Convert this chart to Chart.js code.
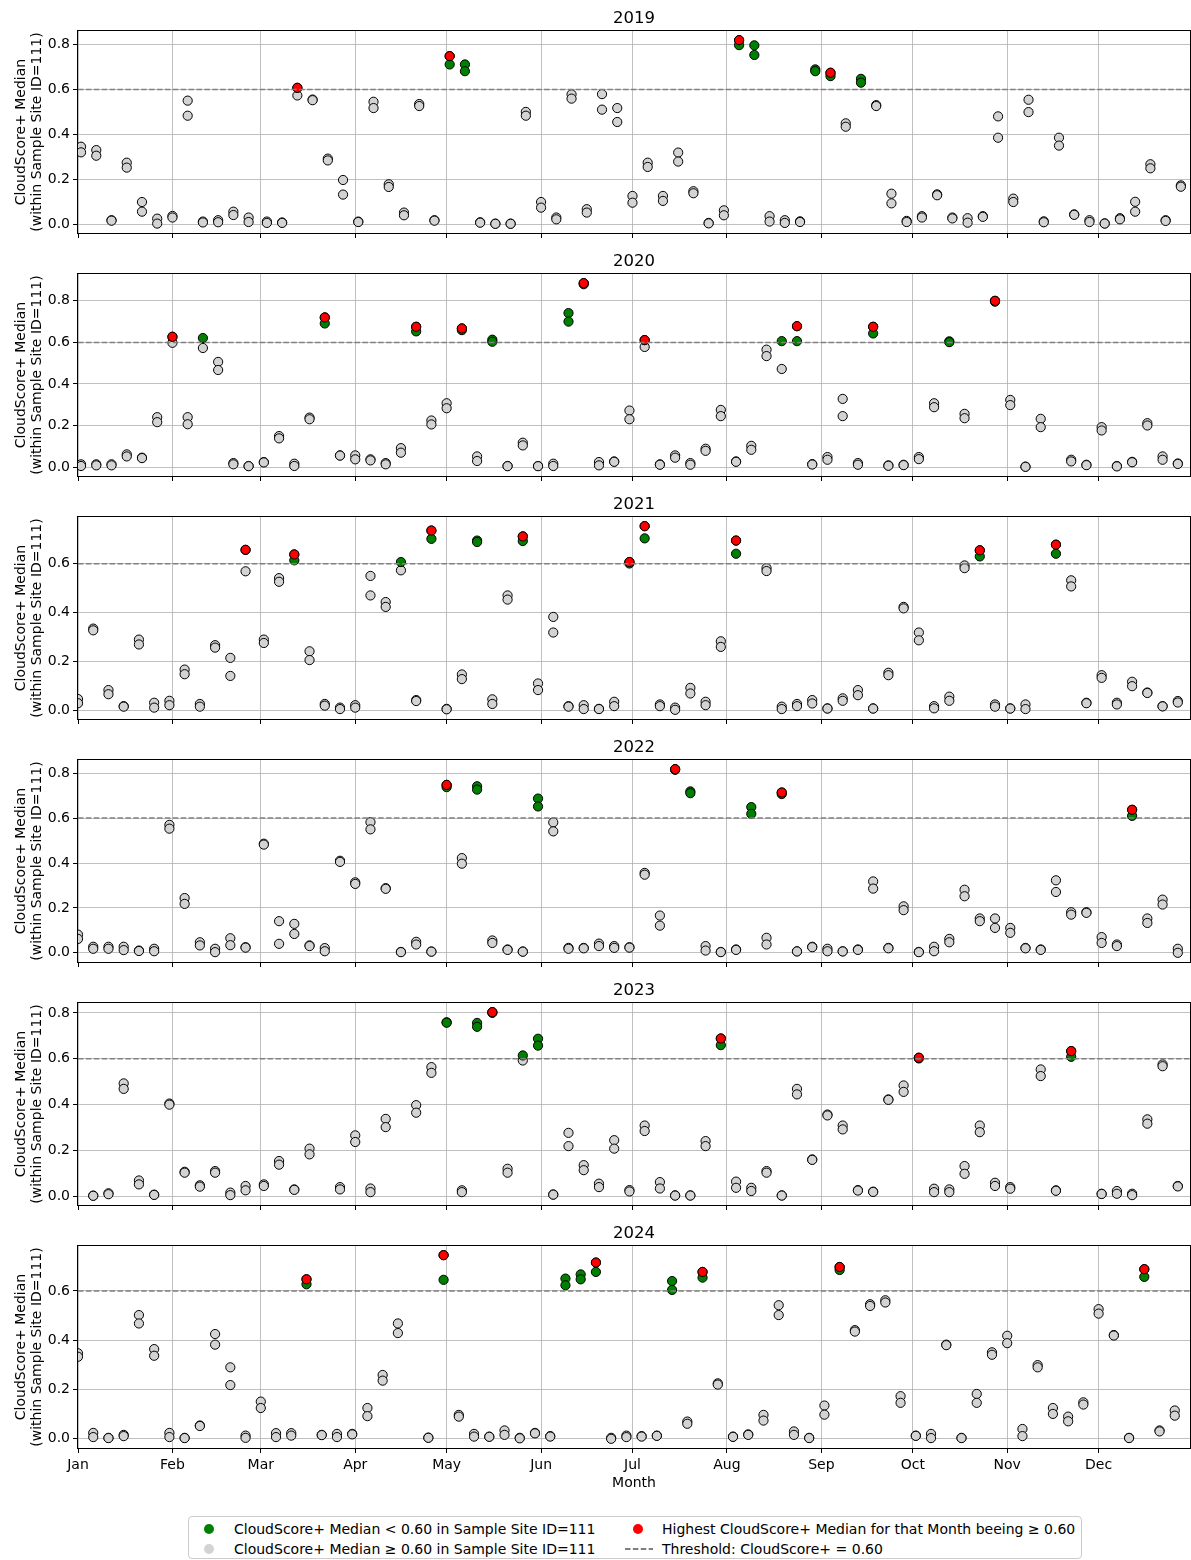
<!DOCTYPE html>
<html>
<head>
<meta charset="utf-8">
<script src="https://cdn.jsdelivr.net/npm/chart.js@4.4.1/dist/chart.umd.min.js"></script>
<style>
  html, body { margin: 0; padding: 0; background: #fff; }
  body { width: 1191px; height: 1560px; overflow: hidden; position: relative; font-family: 'DejaVu Sans', sans-serif; }
  canvas.panel { position: absolute; left: 0; }
  #legend { position: absolute; left: 188px; top: 1516px; width: 892px; height: 41px;
            border: 1px solid #cccccc; border-radius: 4px; background: #fff; font-size: 14px; color: #000; }
  #legend .item { position: absolute; white-space: nowrap; line-height: 16px; }
  #legend .dot { position: absolute; width: 10px; height: 10px; border-radius: 50%; }
  #legend svg { position: absolute; }
</style>
</head>
<body>
<canvas class="panel" id="p2019"></canvas>
<canvas class="panel" id="p2020"></canvas>
<canvas class="panel" id="p2021"></canvas>
<canvas class="panel" id="p2022"></canvas>
<canvas class="panel" id="p2023"></canvas>
<canvas class="panel" id="p2024"></canvas>

<div id="legend">
  <span class="dot" style="left:15px;top:7px;background:#008000"></span>
  <span class="item" style="left:45px;top:4px">CloudScore+ Median &lt; 0.60 in Sample Site ID=111</span>
  <span class="dot" style="left:15px;top:27px;background:#d3d3d3"></span>
  <span class="item" style="left:45px;top:24px">CloudScore+ Median ≥ 0.60 in Sample Site ID=111</span>
  <span class="dot" style="left:444px;top:7px;background:#ff0000"></span>
  <span class="item" style="left:473px;top:4px">Highest CloudScore+ Median for that Month beeing ≥ 0.60</span>
  <svg style="left:435px;top:30px" width="30" height="4"><line x1="1" y1="2" x2="29" y2="2" stroke="#555" stroke-width="1.5" stroke-dasharray="5.5 2.4"/></svg>
  <span class="item" style="left:473px;top:24px">Threshold: CloudScore+ = 0.60</span>
</div>

<script>
// Month axis: calendar positions in days from 1 January (29 February included)
const MONTHS = ['Jan','Feb','Mar','Apr','May','Jun','Jul','Aug','Sep','Oct','Nov','Dec'];
const MONTH_START = [0, 31, 60, 91, 121, 152, 182, 213, 244, 274, 305, 335];
const X_MAX = 365;
const THRESHOLD = 0.6;
const STEP_DAYS = 5;              // acquisition cycle
const Y_TICKS = [0.0, 0.2, 0.4, 0.6, 0.8];

const YEARS = [2019, 2020, 2021, 2022, 2023, 2024];
// day offset of the first acquisition slot in each year
const FIRST_DAY = [1, 1, 0, 0, 0, 0];

// Two CloudScore+ medians per acquisition slot (upper / lower); null = no acquisition
const upper2019 = [0.345,0.330,0.018,0.274,0.099,0.025,0.037,0.550,0.012,0.018,0.056,0.030,0.012,0.008,0.607,0.555,0.292,0.197,0.012,0.545,0.178,0.052,0.535,0.018,0.748,0.711,0.009,0.003,0.003,0.500,0.099,0.030,0.578,0.067,0.579,0.517,0.126,0.274,0.126,0.319,0.147,0.006,0.062,0.819,0.796,0.036,0.018,0.013,0.689,0.674,0.449,0.647,0.530,0.136,0.015,0.036,0.133,0.030,0.027,0.036,0.480,0.114,0.554,0.013,0.385,0.044,0.018,0.004,0.027,0.100,0.267,0.018,0.173];
const lower2019 = [0.320,0.305,0.016,0.252,0.056,0.003,0.030,0.483,0.008,0.009,0.041,0.010,0.006,0.006,0.573,0.552,0.284,0.132,0.010,0.517,0.166,0.040,0.526,0.016,0.711,0.681,0.007,0.002,0.002,0.483,0.074,0.022,0.559,0.052,0.510,0.455,0.096,0.255,0.104,0.279,0.138,0.004,0.040,0.797,0.753,0.012,0.006,0.010,0.681,0.659,0.434,0.630,0.526,0.093,0.010,0.030,0.129,0.026,0.007,0.033,0.385,0.099,0.499,0.009,0.350,0.042,0.010,0.003,0.022,0.056,0.249,0.015,0.167];

const upper2020 = [0.013,0.013,0.013,0.061,0.045,0.240,0.627,0.240,0.621,0.506,0.019,0.005,0.024,0.149,0.016,0.238,0.720,0.056,0.056,0.037,0.019,0.091,0.675,0.224,0.307,0.667,0.051,0.613,0.005,0.117,0.005,0.016,0.741,0.885,0.024,0.027,0.272,0.611,0.013,0.056,0.019,0.088,0.275,0.027,0.102,0.565,0.606,0.678,0.014,0.048,0.328,0.019,0.675,0.008,0.011,0.048,0.307,0.605,0.256,null,0.800,0.323,0.002,0.232,null,0.035,0.011,0.192,0.005,0.025,0.211,0.051,0.017];
const lower2020 = [0.005,0.008,0.008,0.051,0.043,0.216,0.598,0.206,0.573,0.467,0.013,0.004,0.022,0.138,0.005,0.230,0.691,0.055,0.037,0.032,0.013,0.069,0.653,0.205,0.283,0.659,0.029,0.603,0.004,0.104,0.004,0.005,0.700,0.880,0.008,0.025,0.230,0.578,0.011,0.045,0.011,0.078,0.245,0.025,0.083,0.534,0.472,0.606,0.012,0.035,0.245,0.011,0.643,0.006,0.009,0.038,0.288,0.601,0.235,null,0.796,0.298,0.001,0.192,null,0.027,0.009,0.176,0.003,0.023,0.200,0.035,0.015];

const upper2021 = [0.045,0.334,0.082,0.016,0.289,0.030,0.038,0.166,0.025,0.266,0.214,0.657,0.289,0.541,0.638,0.241,0.025,0.010,0.020,0.550,0.443,0.607,0.041,0.736,0.005,0.146,0.695,0.044,0.470,0.712,0.109,0.382,0.016,0.020,0.005,0.034,0.607,0.754,0.023,0.010,0.091,0.034,0.282,0.695,null,0.582,0.014,0.025,0.041,0.007,0.048,0.082,0.007,0.153,0.423,0.318,0.016,0.055,0.593,0.655,0.023,0.007,0.023,null,0.678,0.532,0.030,0.143,0.030,0.116,0.072,0.016,0.037];
const lower2021 = [0.028,0.327,0.065,0.014,0.269,0.010,0.020,0.147,0.014,0.256,0.140,0.569,0.275,0.526,0.614,0.205,0.018,0.004,0.010,0.470,0.423,0.573,0.037,0.702,0.003,0.127,0.689,0.025,0.453,0.693,0.082,0.318,0.014,0.004,0.004,0.016,0.601,0.704,0.016,0.001,0.068,0.020,0.259,0.641,null,0.570,0.004,0.016,0.027,0.006,0.038,0.061,0.006,0.143,0.417,0.286,0.007,0.038,0.582,0.630,0.014,0.006,0.004,null,0.641,0.507,0.028,0.132,0.023,0.098,0.070,0.015,0.031];

const upper2022 = [0.081,0.027,0.027,0.027,0.010,0.018,0.570,0.244,0.047,0.018,0.065,0.025,0.486,0.141,0.129,0.033,0.021,0.410,0.314,0.582,0.288,0.004,0.049,0.006,0.748,0.422,0.742,0.055,0.015,0.006,0.687,0.581,0.022,0.022,0.041,0.030,0.025,0.356,0.166,0.818,0.719,0.030,0.004,0.015,0.649,0.067,0.714,0.007,0.027,0.018,0.007,0.015,0.318,0.022,0.207,0.004,0.027,0.062,0.281,0.153,0.153,0.111,0.022,0.015,0.323,0.181,0.181,0.070,0.037,0.637,0.153,0.237,0.018];
const lower2022 = [0.062,0.018,0.018,0.012,0.008,0.007,0.553,0.218,0.033,0.003,0.034,0.023,0.482,0.040,0.084,0.030,0.007,0.405,0.307,0.550,0.285,0.003,0.037,0.005,0.738,0.397,0.727,0.044,0.013,0.005,0.652,0.541,0.018,0.020,0.030,0.022,0.023,0.348,0.121,0.815,0.711,0.010,0.003,0.013,0.619,0.037,0.707,0.006,0.025,0.007,0.006,0.013,0.286,0.020,0.190,0.003,0.007,0.047,0.252,0.141,0.111,0.089,0.020,0.013,0.271,0.170,0.178,0.044,0.030,0.610,0.133,0.215,0.000];

const upper2023 = [null,0.002,0.012,0.492,0.068,0.006,0.404,0.106,0.047,0.109,0.015,0.044,0.051,0.153,0.029,0.207,null,0.039,0.265,0.033,0.337,null,0.397,0.563,0.759,0.025,0.756,0.803,0.119,0.614,0.687,0.007,0.276,0.135,0.054,0.244,0.026,0.308,0.061,0.003,0.003,0.240,0.688,0.063,0.036,0.109,0.003,0.468,0.160,0.356,0.308,0.026,0.019,0.422,0.483,0.604,0.032,0.029,0.131,0.308,0.058,0.039,null,0.553,0.025,0.633,null,0.010,0.022,0.010,0.335,0.575,0.044];
const lower2023 = [null,0.001,0.008,0.468,0.051,0.005,0.399,0.102,0.041,0.102,0.004,0.025,0.044,0.137,0.027,0.182,null,0.029,0.236,0.017,0.301,null,0.364,0.538,0.757,0.017,0.739,0.800,0.102,0.592,0.657,0.006,0.218,0.113,0.039,0.207,0.020,0.284,0.033,0.002,0.002,0.218,0.659,0.036,0.022,0.102,0.002,0.444,0.158,0.352,0.291,0.024,0.018,0.420,0.455,0.601,0.017,0.017,0.097,0.279,0.044,0.032,null,0.524,0.023,0.608,null,0.009,0.010,0.004,0.316,0.567,0.042];

const upper2024 = [0.347,0.024,0.004,0.016,0.502,0.364,0.024,0.004,0.054,0.425,0.290,0.013,0.151,0.023,0.023,0.647,0.016,0.020,0.020,0.125,0.259,0.468,null,0.005,0.745,0.097,0.020,0.009,0.034,0.004,0.024,0.011,0.650,0.667,0.715,0.004,0.013,0.011,0.013,0.640,0.070,0.677,0.225,0.009,0.018,0.097,0.542,0.030,0.004,0.135,0.697,0.441,0.546,0.562,0.173,0.013,0.020,0.382,0.004,0.182,0.351,0.418,0.040,0.299,0.125,0.090,0.148,0.526,0.421,0.004,0.688,0.034,0.115];
const lower2024 = [0.333,0.007,0.003,0.011,0.468,0.337,0.007,0.003,0.052,0.382,0.218,0.004,0.125,0.007,0.013,0.627,0.015,0.007,0.018,0.092,0.236,0.429,null,0.004,0.645,0.090,0.009,0.008,0.016,0.002,0.022,0.009,0.623,0.647,0.677,0.000,0.007,0.009,0.012,0.604,0.061,0.654,0.220,0.008,0.016,0.074,0.502,0.016,0.003,0.098,0.685,0.435,0.539,0.553,0.146,0.012,0.003,0.380,0.003,0.146,0.341,0.388,0.011,0.290,0.101,0.071,0.139,0.508,0.419,0.003,0.657,0.030,0.094];

const UPPER = [upper2019, upper2020, upper2021, upper2022, upper2023, upper2024];
const LOWER = [lower2019, lower2020, lower2021, lower2022, lower2023, lower2024];

Chart.defaults.font.family = "'DejaVu Sans', sans-serif";
Chart.defaults.font.size = 14;
Chart.defaults.color = '#000';

// Split one year's medians into below-threshold, above-threshold and monthly maxima.
// Each acquisition is placed on the shared month axis by its calendar month and day.
function splitYear(year, firstDay, upper, lower) {
  const gray = [], green = [], best = {};
  upper.forEach((u, i) => {
    const d = new Date(Date.UTC(year, 0, 1 + firstDay + STEP_DAYS * i));
    const month = d.getUTCMonth();
    const x = MONTH_START[month] + d.getUTCDate() - 1;
    [u, lower[i]].forEach(v => {
      if (v === null) return;
      const p = { x, y: v };
      if (v >= THRESHOLD) {
        green.push(p);
        if (!best[month] || v > best[month].y) best[month] = p;
      } else {
        gray.push(p);
      }
    });
  });
  return { gray, green, red: Object.values(best) };
}

// Axes frame on all four sides
const framePlugin = {
  id: 'frame',
  afterDraw(chart) {
    const { ctx, chartArea: a } = chart;
    ctx.save();
    ctx.strokeStyle = '#000';
    ctx.lineWidth = 1;
    ctx.strokeRect(Math.round(a.left) - 0.5, Math.round(a.top) - 0.5,
                   Math.round(a.right - a.left) + 1, Math.round(a.bottom - a.top) + 1);
    ctx.restore();
  }
};

const PANEL_STEP = 243;
const TITLE_H = 31;
const PLOT_H = 202;
const GRID = { color: '#b0b0b0', lineWidth: 0.8, tickColor: '#000', tickWidth: 1, tickLength: 5 };

function pointSet(label, data, fill, order) {
  return {
    label, data, order, clip: 0,
    pointRadius: 4.6, pointHoverRadius: 4.6,
    pointBackgroundColor: fill, pointBorderColor: '#000', pointBorderWidth: 1,
    backgroundColor: fill, borderColor: '#000'
  };
}

YEARS.forEach((year, k) => {
  const isLast = k === YEARS.length - 1;
  const axisH = isLast ? 52 : 13;
  const canvas = document.getElementById('p' + year);
  canvas.width = 1193;
  canvas.height = TITLE_H + PLOT_H + axisH;
  canvas.style.top = (PANEL_STEP * k) + 'px';

  const s = splitYear(year, FIRST_DAY[k], UPPER[k], LOWER[k]);
  const all = UPPER[k].concat(LOWER[k]).filter(v => v !== null);
  const vMin = Math.min(...all), vMax = Math.max(...all);
  const pad = 0.05 * (vMax - vMin);
  const yMin = vMin - pad, yMax = vMax + pad;

  new Chart(canvas, {
    type: 'scatter',
    data: {
      datasets: [
        pointSet('CloudScore+ Median ≥ 0.60 in Sample Site ID=111', s.gray, '#d3d3d3', 4),
        pointSet('CloudScore+ Median < 0.60 in Sample Site ID=111', s.green, '#008000', 3),
        pointSet('Highest CloudScore+ Median for that Month beeing ≥ 0.60', s.red, '#ff0000', 2),
        {
          type: 'line', label: 'Threshold: CloudScore+ = 0.60', order: 1, showLine: true, clip: 0,
          data: [{ x: 0, y: THRESHOLD }, { x: X_MAX, y: THRESHOLD }],
          borderColor: '#808080', borderWidth: 1.5, borderDash: [5.5, 2.4], pointRadius: 0, fill: false
        }
      ]
    },
    options: {
      responsive: false,
      animation: false,
      events: [],
      devicePixelRatio: 1,
      layout: { padding: { left: 0, right: 3, top: 0, bottom: 0 }, autoPadding: false },
      plugins: {
        legend: { display: false },
        tooltip: { enabled: false },
        title: {
          display: true, text: String(year), fullSize: false, color: '#000',
          font: { size: 16.5, weight: 'normal' }, padding: { top: 9, bottom: 2.2 }
        }
      },
      scales: {
        x: {
          type: 'linear', min: 0, max: X_MAX,
          afterBuildTicks: sc => { sc.ticks = MONTH_START.map(v => ({ value: v })); },
          afterFit: sc => { sc.height = axisH; },
          ticks: {
            display: isLast, autoSkip: false, maxRotation: 0, padding: 3.5,
            callback: v => MONTHS[MONTH_START.indexOf(v)]
          },
          grid: GRID,
          border: { display: false },
          title: { display: isLast, text: 'Month', padding: { top: 0, bottom: 8.6 } }
        },
        y: {
          type: 'linear', min: yMin, max: yMax,
          afterBuildTicks: sc => { sc.ticks = Y_TICKS.filter(v => v >= yMin && v <= yMax).map(v => ({ value: v })); },
          afterFit: sc => { sc.width = 78; },
          ticks: { padding: 3, callback: v => v.toFixed(1) },
          grid: GRID,
          border: { display: false },
          title: {
            display: true, text: ['CloudScore+ Median', '(within Sample Site ID=111)'],
            padding: { top: 12.6, bottom: 0 }
          }
        }
      }
    },
    plugins: [framePlugin]
  });
});
</script>
</body>
</html>
